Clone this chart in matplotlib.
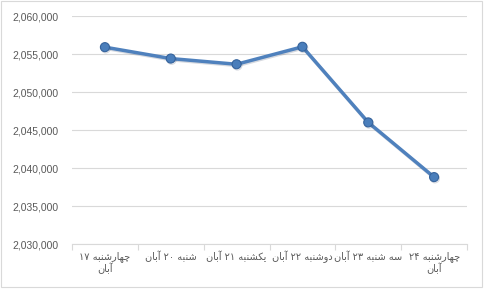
import matplotlib.pyplot as plt
from matplotlib import patheffects as pe
from matplotlib.patches import Rectangle

# داده‌ها
categories = [
    "چهارشنبه ۱۷\nآبان",
    "شنبه ۲۰ آبان",
    "یکشنبه ۲۱ آبان",
    "دوشنبه ۲۲ آبان",
    "سه شنبه ۲۳ آبان",
    "چهارشنبه ۲۴\nآبان",
]
values = [2055900, 2054400, 2053650, 2055950, 2046000, 2038800]
y_ticks = [2030000, 2035000, 2040000, 2045000, 2050000, 2055000, 2060000]

# presentation forms: isolated, final, initial, medial
FORMS = {
    "ا": ("\uFE8D", "\uFE8E", None, None),
    "آ": ("\uFE81", "\uFE82", None, None),
    "ب": ("\uFE8F", "\uFE90", "\uFE91", "\uFE92"),
    "چ": ("\uFB7A", "\uFB7B", "\uFB7C", "\uFB7D"),
    "ه": ("\uFEE9", "\uFEEA", "\uFEEB", "\uFEEC"),
    "ر": ("\uFEAD", "\uFEAE", None, None),
    "ش": ("\uFEB5", "\uFEB6", "\uFEB7", "\uFEB8"),
    "ن": ("\uFEE5", "\uFEE6", "\uFEE7", "\uFEE8"),
    "ی": ("\uFBFC", "\uFBFD", "\uFBFE", "\uFBFF"),
    "ک": ("\uFB8E", "\uFB8F", "\uFB90", "\uFB91"),
    "د": ("\uFEA9", "\uFEAA", None, None),
    "و": ("\uFEED", "\uFEEE", None, None),
    "س": ("\uFEB1", "\uFEB2", "\uFEB3", "\uFEB4"),
}


def shape_word(word):
    out = []
    for i, ch in enumerate(word):
        if ch not in FORMS:
            out.append(ch)
            continue
        prev = word[i - 1] if i > 0 else None
        nxt = word[i + 1] if i + 1 < len(word) else None
        joins_prev = prev in FORMS and FORMS[prev][2] is not None
        joins_next = nxt in FORMS and FORMS[ch][2] is not None
        iso, fin, ini, med = FORMS[ch]
        if joins_prev and joins_next:
            out.append(med)
        elif joins_prev:
            out.append(fin)
        elif joins_next:
            out.append(ini)
        else:
            out.append(iso)
    return "".join(out)


def rtl(text):
    lines = []
    for line in text.split("\n"):
        words = []
        for w in line.split(" "):
            if any(c in FORMS for c in w):
                words.append(shape_word(w)[::-1])
            else:
                words.append(w)
        lines.append(" ".join(words[::-1]))
    return "\n".join(lines)


fig = plt.figure(figsize=(4.84, 2.92), dpi=100)
ax = fig.add_axes([72 / 484, 1 - 244 / 292, (467 - 72) / 484, (244 - 16) / 292])

x = list(range(len(values)))
ax.plot(
    x, values, color="#4F81BD", linewidth=2.5, marker="o", markersize=6.5,
    markerfacecolor="#4A7EBB", markeredgecolor="#35639C", markeredgewidth=0.8,
    solid_capstyle="round", zorder=3,
    path_effects=[pe.SimpleLineShadow(offset=(0.6, -0.9), alpha=0.18, shadow_color="#203050"),
                  pe.Normal()],
)

ax.set_xlim(-0.5, len(values) - 0.5)
ax.set_ylim(y_ticks[0], y_ticks[-1])
ax.set_yticks(y_ticks)
ax.set_yticklabels([f"{v:,}" for v in y_ticks], fontsize=7.5, color="#595959",
                   family="Liberation Sans")
ax.tick_params(axis="y", length=0, pad=10)
ax.grid(axis="y", color="#D9D9D9", linewidth=0.8)
ax.set_axisbelow(True)

ax.set_xticks(x)
ax.set_xticklabels([rtl(c) for c in categories], fontsize=7, color="#595959",
                   family="DejaVu Sans", multialignment="center", linespacing=1.1)
ax.set_xticks([i - 0.5 for i in range(len(values) + 1)], minor=True)
ax.tick_params(axis="x", which="major", length=0, pad=5)
ax.tick_params(axis="x", which="minor", length=4, color="#D9D9D9", width=0.8)

for side in ["top", "right", "left"]:
    ax.spines[side].set_visible(False)
ax.spines["bottom"].set_color("#D9D9D9")
ax.spines["bottom"].set_linewidth(0.8)

fig.patches.append(Rectangle((0.5 / 484, 1 - 287 / 292), 481.5 / 484, 286.5 / 292,
                             transform=fig.transFigure, fill=False,
                             edgecolor="#D9D9D9", linewidth=0.8))

fig.savefig("out.png", dpi=100)
